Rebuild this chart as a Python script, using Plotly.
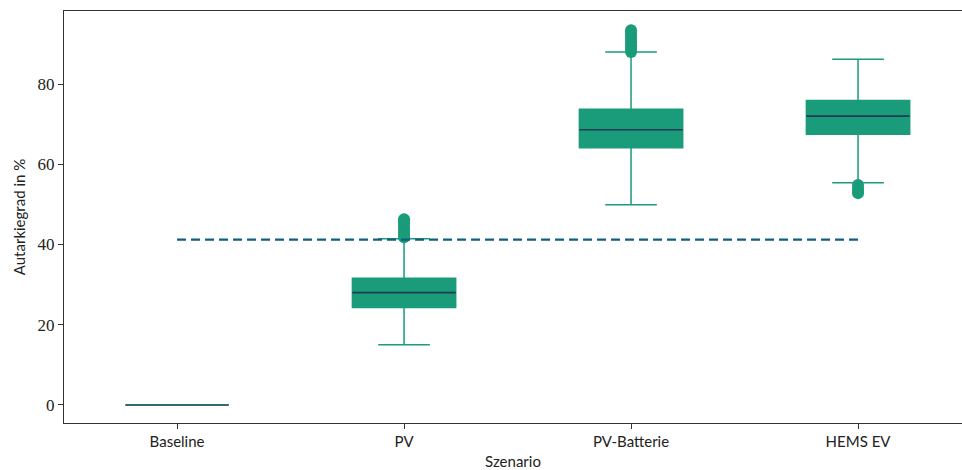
import plotly.graph_objects as go

# Szenarien und Kennwerte der Autarkiegrad-Verteilungen (in %)
scenarios = ["Baseline", "PV", "PV-Batterie", "HEMS EV"]
lower_fence = [0.0, 15.0, 49.9, 55.4]
q1 = [0.0, 24.3, 64.1, 67.5]
median = [0.0, 28.0, 68.6, 72.0]
q3 = [0.0, 31.6, 73.7, 75.9]
upper_fence = [0.0, 41.4, 88.0, 86.2]

# Ausreißer je Szenario
outliers = [
    [],
    [41.8, 42.5, 43.2, 43.9, 44.6, 45.3, 46.0, 46.3],
    [88.0, 88.8, 89.6, 90.4, 91.2, 92.0, 92.8, 93.4],
    [52.8, 53.4, 54.1, 54.8],
]

# Horizontale Referenzlinie
reference_level = 41.2

BOX = "#1a9c7a"
MEDIAN = "#1e3a56"
REF = "#0f5f80"
box_w = 0.455
positions = list(range(len(scenarios)))

fig = go.Figure()

for i, name in enumerate(scenarios):
    fig.add_trace(go.Box(
        x=[i], q1=[q1[i]], median=[median[i]], q3=[q3[i]],
        lowerfence=[lower_fence[i]], upperfence=[upper_fence[i]],
        width=box_w, whiskerwidth=0.5,
        fillcolor=BOX, line=dict(color=BOX, width=1.5),
        boxpoints=False, showlegend=False, name=name,
    ))
    if outliers[i]:
        fig.add_trace(go.Scatter(
            x=[i] * len(outliers[i]), y=outliers[i], mode="markers",
            marker=dict(color=BOX, size=12, line=dict(width=0)),
            showlegend=False, hoverinfo="y",
        ))

# Medianlinien
for i in positions:
    color = "#2f4d68" if i == 0 else MEDIAN
    fig.add_trace(go.Scatter(
        x=[i - box_w / 2, i + box_w / 2], y=[median[i], median[i]],
        mode="lines", line=dict(color=color, width=1.6),
        showlegend=False, hoverinfo="skip",
    ))

fig.add_trace(go.Scatter(
    x=[positions[0], positions[-1]], y=[reference_level, reference_level],
    mode="lines", line=dict(color=REF, width=2.2, dash="9px,5px"),
    showlegend=False, hoverinfo="skip",
))

fig.update_layout(
    width=962, height=470,
    margin=dict(l=64, r=0, t=11, b=47),
    plot_bgcolor="white", paper_bgcolor="white",
    font=dict(family="Lato", size=15, color="#222"),
)
fig.update_xaxes(
    range=[-0.498, 3.458], tickmode="array", tickvals=positions, ticktext=scenarios,
    showgrid=False, zeroline=False, showline=True, mirror=True,
    linecolor="#333", linewidth=1.2, ticks="outside", ticklen=5, tickcolor="#333",
    tickfont=dict(family="Lato", size=15, color="#222"),
    title=dict(text="Szenario", standoff=7, font=dict(family="Lato", size=15)),
)
fig.update_yaxes(
    range=[-4.5, 98.2], tickvals=[0, 20, 40, 60, 80],
    showgrid=False, zeroline=False, showline=True,
    linecolor="#333", linewidth=1.2, ticks="outside", ticklen=5, tickcolor="#333",
    tickfont=dict(family="Liberation Serif", size=17, color="#222"),
    title=dict(text="Autarkiegrad in %", standoff=8, font=dict(family="Lato", size=15)),
)

fig.write_html("out.html")
